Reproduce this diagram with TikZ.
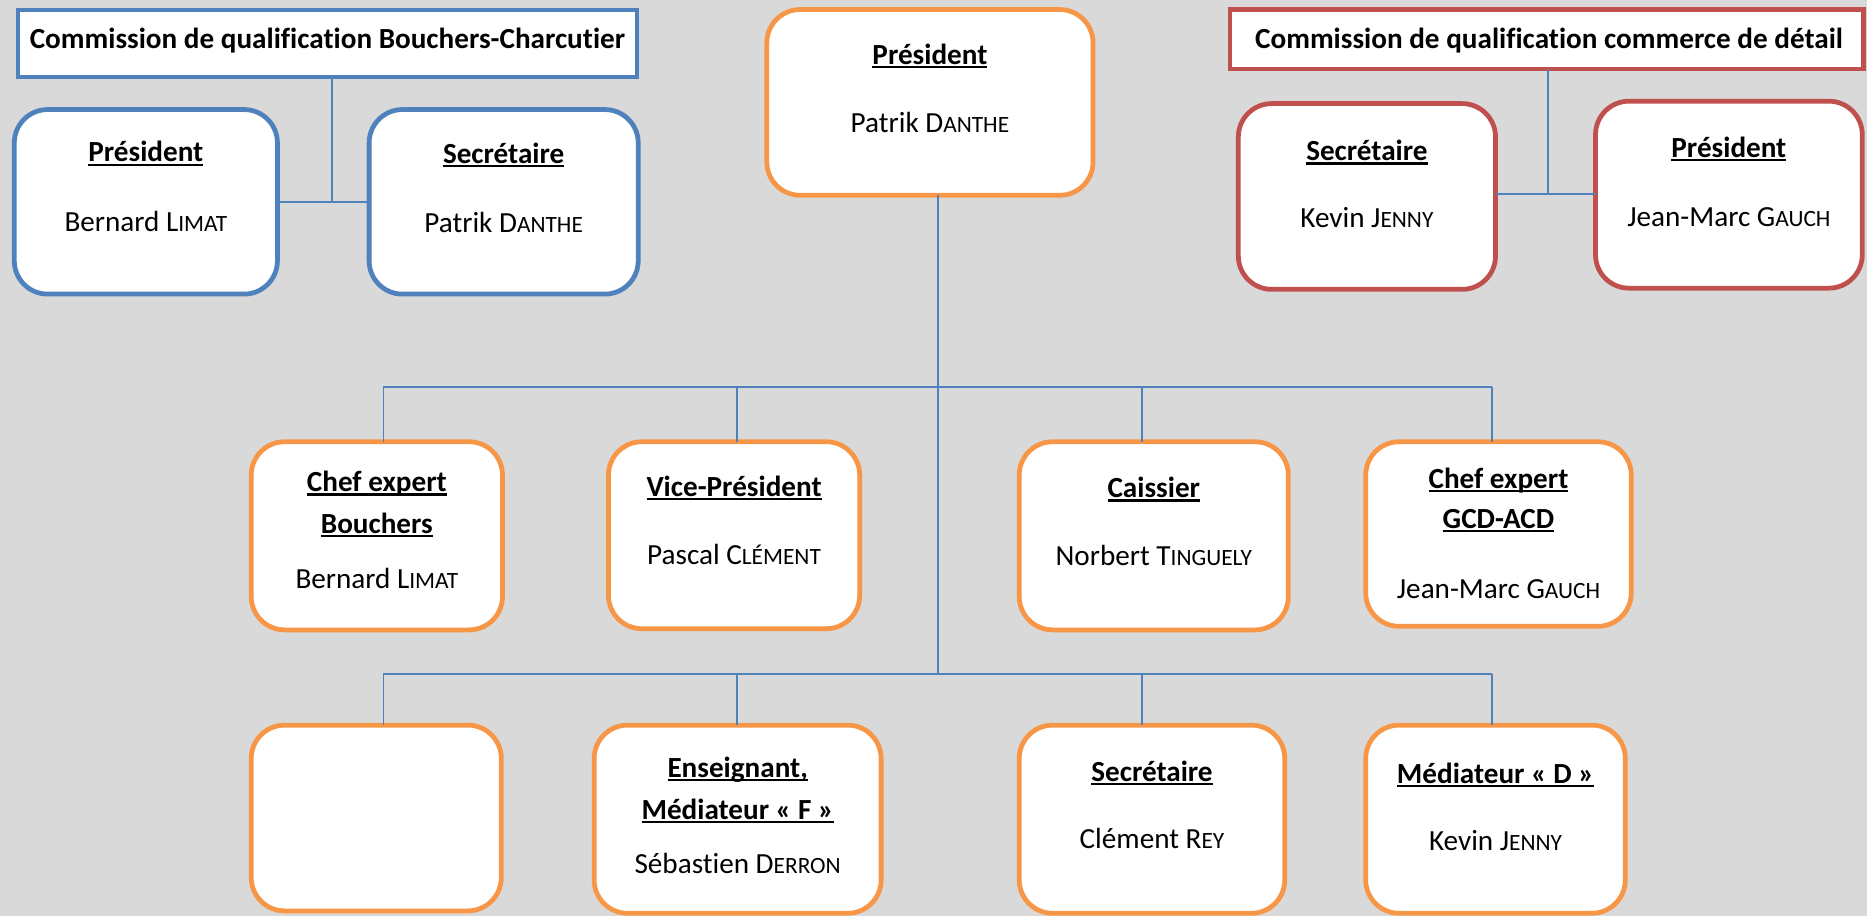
\documentclass[tikz,border=0pt]{standalone}
\usepackage{fontspec}
\setmainfont{Carlito}[Ligatures={NoCommon,NoRare}]
\definecolor{bg}{HTML}{D9D9D9}
\definecolor{obox}{HTML}{F79646}
\definecolor{bbox}{HTML}{4F81BD}
\definecolor{rbox}{HTML}{C0504D}
\definecolor{lnk}{HTML}{4F81BD}
\newcommand\ulw[1]{\setbox0=\hbox{#1}\rlap{\rule[-3.2pt]{\wd0}{1.8pt}}\box0}
\newcommand\nsc[1]{{\fontsize{19.6pt}{20pt}\selectfont #1}}
\newcommand\mkbox[6]{\node[card, draw=#2, minimum width={#5pt-#3pt-4pt}, minimum height={#6pt-#4pt-4pt}] (#1) at ({(#3+#5)/2},{(#4+#6)/2}) {};}
\tikzset{
  card/.style={line width=4pt, fill=white, rounded corners=28pt, inner sep=0pt, outer sep=0pt},
  hdr/.style={line width=3.5pt, fill=white, inner sep=0pt, outer sep=0pt},
  conn/.style={draw=lnk, line width=1.5pt},
  tx/.style={anchor=base, inner sep=0pt, font=\fontsize{24.5pt}{29pt}\selectfont},
  ttl/.style={tx, font=\fontsize{24.5pt}{29pt}\selectfont\bfseries},
}
\begin{document}
\begin{tikzpicture}[x=1pt,y=-1pt]
\useasboundingbox (0,0) rectangle (1568,769);
\fill[bg] (0,0) rectangle (1568,769);

% headers
\node[hdr, draw=bbox, minimum width=520pt, minimum height=56pt] (lh) at (275,36.5) {};
\node[hdr, draw=rbox, minimum width=532pt, minimum height=50pt] (rh) at (1299,33) {};

% boxes
\mkbox{lp}{bbox}{10}{90}{235}{249}
\mkbox{ls}{bbox}{308}{90}{538}{249}
\mkbox{rs}{rbox}{1038}{85}{1258}{245}
\mkbox{rp}{rbox}{1338}{83}{1566}{244}
\mkbox{cp}{obox}{642}{6}{920}{166}
\mkbox{b1}{obox}{209}{369}{424}{531}
\mkbox{b2}{obox}{509}{369}{724}{530}
\mkbox{b3}{obox}{854}{369}{1084}{531}
\mkbox{b4}{obox}{1145}{369}{1372}{528}
\mkbox{c1}{obox}{209}{607}{423}{767}
\mkbox{c2}{obox}{497}{607}{742}{769}
\mkbox{c3}{obox}{854}{607}{1081}{769}
\mkbox{c4}{obox}{1145}{607}{1367}{769}

% connectors
\coordinate (lj) at (279,169.5);
\coordinate (rj) at (1300,163);
\coordinate (t1) at (788,325);
\coordinate (t2) at (788,566);
\coordinate (d1) at (322,325);
\coordinate (d2) at (619,325);
\coordinate (d3) at (959,325);
\coordinate (d4) at (1253,325);
\coordinate (e1) at (322,566);
\coordinate (e2) at (619,566);
\coordinate (e3) at (959,566);
\coordinate (e4) at (1253,566);
\draw[conn] (lj |- lh.south) -- (lj);
\draw[conn] (lp.east) -- (ls.west);
\draw[conn] (rj |- rh.south) -- (rj);
\draw[conn] (rs.east |- rj) -- (rp.west |- rj);
\draw[conn] (t1 |- cp.south) -- (t2);
\draw[conn] (d1) -- (d4);
\draw[conn] (e1) -- (e4);
\foreach \i in {1,2,3,4}{
  \draw[conn] (d\i) -- (d\i |- b\i.north);
  \draw[conn] (e\i) -- (e\i |- c\i.north);
}

% header texts
\node[ttl] (lht) at (lh.north |- 0,41) {Commission de qualification Bouchers-Charcutier};
\node[ttl] (rht) at (1301,41) {Commission de qualification commerce de détail};

% texts
\node[ttl] (lp1) at (lp.north |- 0,136) {\ulw{Président}};
\node[tx]  (lp2) at (lp.north |- 0,194) {Bernard L\nsc{IMAT}};
\node[ttl] (ls1) at (ls.north |- 0,137) {\ulw{Secrétaire}};
\node[tx]  (ls2) at (ls.north |- 0,195) {Patrik D\nsc{ANTHE}};
\node[ttl] (cp1) at (cp.north |- 0,54) {\ulw{Président}};
\node[tx]  (cp2) at (cp.north |- 0,111) {Patrik D\nsc{ANTHE}};
\node[ttl] (rs1) at (rs.north |- 0,135) {\ulw{Secrétaire}};
\node[tx]  (rs2) at (rs.north |- 0,191) {Kevin J\nsc{ENNY}};
\node[ttl] (rp1) at (rp.north |- 0,132) {\ulw{Président}};
\node[tx]  (rp2) at (rp.north |- 0,190) {Jean-Marc G\nsc{AUCH}};

\node[ttl] (b1a) at (b1.north |- 0,413) {\ulw{Chef expert}};
\node[ttl] (b1b) at (b1.north |- 0,448) {\ulw{Bouchers}};
\node[tx]  (b1c) at (b1.north |- 0,494) {Bernard L\nsc{IMAT}};
\node[ttl] (b2a) at (b2.north |- 0,417) {\ulw{Vice-Président}};
\node[tx]  (b2b) at (b2.north |- 0,474) {Pascal C\nsc{LÉMENT}};
\node[ttl] (b3a) at (b3.north |- 0,418) {\ulw{Caissier}};
\node[tx]  (b3b) at (b3.north |- 0,475) {Norbert T\nsc{INGUELY}};
\node[ttl] (b4a) at (b4.north |- 0,410) {\ulw{Chef expert}};
\node[ttl] (b4b) at (b4.north |- 0,444) {\ulw{GCD-ACD}};
\node[tx]  (b4c) at (b4.north |- 0,503) {Jean-Marc G\nsc{AUCH}};

\node[ttl] (c2a) at (c2.north |- 0,653) {\ulw{Enseignant,}};
\node[ttl] (c2b) at (c2.north |- 0,688) {\ulw{Médiateur « F »}};
\node[tx]  (c2c) at (c2.north |- 0,734) {Sébastien D\nsc{ERRON}};
\node[ttl] (c3a) at (c3.north |- 0,656) {\ulw{Secrétaire}};
\node[tx]  (c3b) at (c3.north |- 0,713) {Clément R\nsc{EY}};
\node[ttl] (c4a) at (c4.north |- 0,658) {\ulw{Médiateur « D »}};
\node[tx]  (c4b) at (c4.north |- 0,714) {Kevin J\nsc{ENNY}};
\end{tikzpicture}
\end{document}
